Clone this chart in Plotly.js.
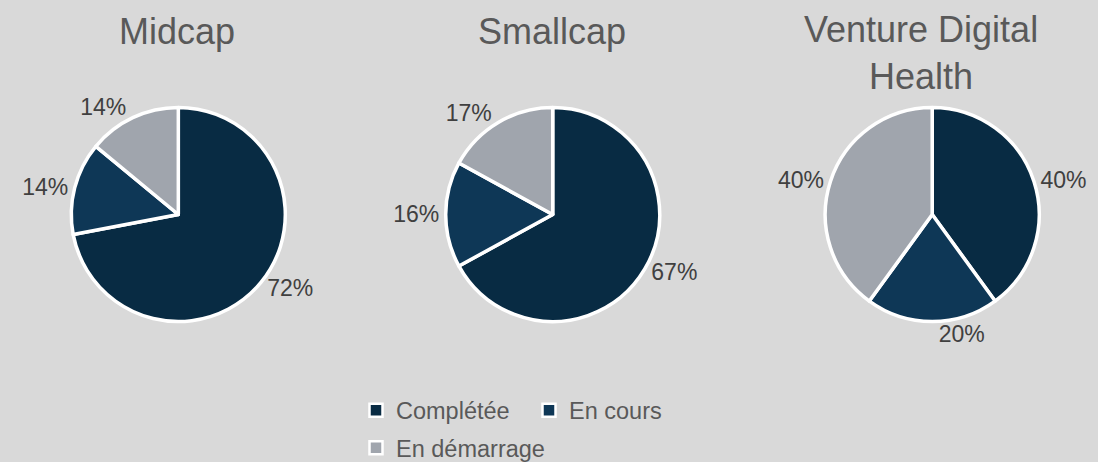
<!DOCTYPE html>
<html>
<head>
<meta charset="utf-8">
<script src="https://cdn.plot.ly/plotly-3.0.1.min.js"></script>
<style>
  html, body { margin: 0; padding: 0; background: #d9d9d9; }
  #chart { width: 1098px; height: 462px; }
</style>
</head>
<body>
<div id="chart"></div>
<script>
// ---- data ----
const categories = ['Complétée', 'En cours', 'En démarrage'];
const fundTitles = ['Midcap', 'Smallcap', 'Venture Digital<br>Health'];
const midcapValues = [72, 14, 14];
const smallcapValues = [67, 16, 17];
const ventureValues = [40, 20, 40];

// ---- styles ----
const sliceColors = ['#082b43', '#0e3756', '#a0a5ad'];
const bg = '#d9d9d9';
const fontFamily = 'Arial, "Liberation Sans", sans-serif';

const seriesValues = [midcapValues, smallcapValues, ventureValues];
const domainsX = [[0.06494, 0.25984], [0.40592, 0.60082], [0.75155, 0.94645]];
const domainY = [0.30411, 0.76732];

const traces = seriesValues.map((vals, i) => ({
  type: 'pie',
  labels: categories,
  values: vals,
  sort: false,
  direction: 'clockwise',
  rotation: 0,
  domain: { x: domainsX[i], y: domainY },
  marker: { colors: sliceColors, line: { color: '#ffffff', width: 3.5 } },
  textposition: 'outside',
  texttemplate: '%{value}%',
  textfont: { family: fontFamily, size: 23, color: '#404040' },
  automargin: false,
  showlegend: false,
  hoverinfo: 'none'
}));

// legend entries (key of the categories)
categories.forEach((c, i) => {
  traces.push({
    type: 'scatter',
    x: [null], y: [null],
    mode: 'markers',
    name: c,
    legend: i < 2 ? 'legend' : 'legend2',
    marker: { symbol: 'square', size: 13, color: sliceColors[i], line: { color: '#ffffff', width: 2.5 } },
    showlegend: true,
    hoverinfo: 'none'
  });
});

const titleX = [177 / 1098, 552 / 1098, 921 / 1098];
const titleY = [1 - 31.5 / 462, 1 - 31.5 / 462, 1 - 53 / 462];

const annotations = fundTitles.map((t, i) => ({
  text: t,
  xref: 'paper', yref: 'paper',
  x: titleX[i], y: titleY[i],
  xanchor: 'center', yanchor: 'middle',
  showarrow: false,
  font: { family: fontFamily, size: 36, color: '#595959' }
}));

const legendCommon = {
  orientation: 'h',
  xanchor: 'left',
  yanchor: 'middle',
  bgcolor: 'rgba(0,0,0,0)',
  borderwidth: 0,
  font: { family: fontFamily, size: 23.5, color: '#595959' }
};

const layout = {
  width: 1098,
  height: 462,
  paper_bgcolor: bg,
  plot_bgcolor: 'rgba(0,0,0,0)',
  margin: { l: 0, r: 0, t: 0, b: 0, autoexpand: false },
  xaxis: { visible: false, showgrid: false, zeroline: false },
  yaxis: { visible: false, showgrid: false, zeroline: false },
  annotations: annotations,
  legend: Object.assign({}, legendCommon, {
    x: 356 / 1098, y: 1 - 410.5 / 462, entrywidth: 128, entrywidthmode: 'pixels'
  }),
  legend2: Object.assign({}, legendCommon, { x: 356 / 1098, y: 1 - 448 / 462 })
};

Plotly.newPlot('chart', traces, layout, { displayModeBar: false, staticPlot: true });
</script>
</body>
</html>
